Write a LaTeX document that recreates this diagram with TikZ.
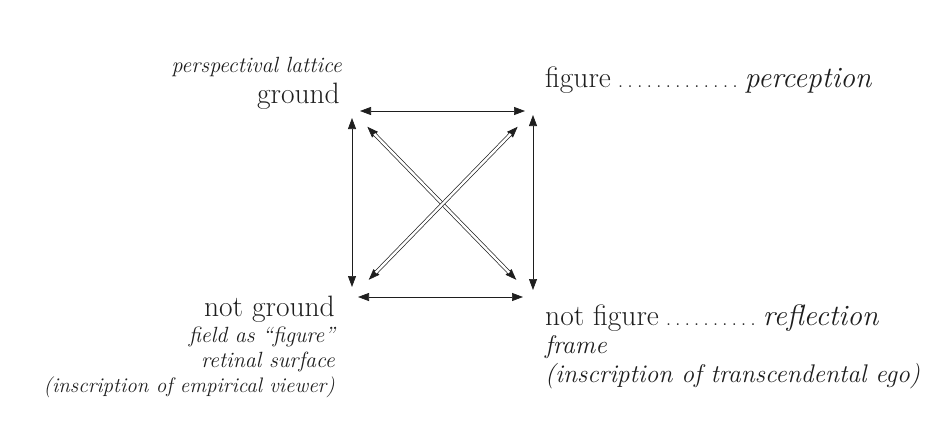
\documentclass[tikz,border=0pt]{standalone}
\usepackage{tikz}
\usetikzlibrary{arrows.meta}
\definecolor{PrintInk}{HTML}{1E1E1E}
\newcommand{\leaderdots}[1]{\hbox to #1{\xleaders\hbox to 9.4pt{\hss\fontsize{22}{22}\selectfont.\hss}\hfill}}

\begin{document}
\begin{tikzpicture}[x=1pt, y=-1pt,
  label/.style={inner sep=0pt, text=PrintInk, font=\fontsize{29.5}{30}\selectfont},
  note/.style={inner sep=0pt, text=PrintInk, font=\fontsize{22}{25}\selectfont\itshape},
  rnote/.style={note, font=\fontsize{25.5}{28}\selectfont\itshape},
  link/.style={{Triangle[length=11pt,width=8pt]}-{Triangle[length=11pt,width=8pt]},
               line width=0.7pt, draw=PrintInk},
  hollow/.style={draw=PrintInk, line width=0.7pt, double=white, double distance=2.4pt}
]
\useasboundingbox (0,0) rectangle (941,441);
\coordinate (G)  at (352,111);
\coordinate (F)  at (533,111);
\coordinate (N)  at (352,297);
\coordinate (NF) at (533,297);

\node[note, anchor=base east] (lattice) at (342,73) {perspectival lattice};
\node[label, anchor=base east] (ground) at (340,103) {ground};
\node[label, anchor=base west] (figure) at (545,88)
  {figure\,\leaderdots{124pt}\,\textit{perception}};
\node[label, anchor=base east] (notground) at (335,316) {not ground};
\node[note, anchor=base east] (field) at (335,342) {field as ``figure''};
\node[note, anchor=base east] (retina) at (335,367) {retinal surface};
\node[note, anchor=base east, font=\fontsize{21}{25}\selectfont\itshape] (viewer)
  at (335,392) {(inscription of empirical viewer)};
\node[label, anchor=base west] (notfigure) at (545,325)
  {not figure\,\leaderdots{94pt}\,\textit{reflection}};
\node[rnote, anchor=base west] (frame) at (545,353) {frame};
\node[rnote, anchor=base west] (ego) at (545,382) {(inscription of transcendental ego)};

\draw[link, shorten <=8pt, shorten >=8pt] (G) -- (F);
\draw[link, shorten <=6pt, shorten >=10pt] (N) -- (NF);
\draw[link, shorten <=7pt, shorten >=10pt] (G) -- (N);
\draw[link, shorten <=4pt, shorten >=7pt] (F) -- (NF);
% double shafts over the diagonals
\draw[link, shorten <=22pt, shorten >=24pt] (G) -- (NF);
\draw[link, shorten <=24pt, shorten >=22pt] (N) -- (F);
\draw[hollow, shorten <=32pt, shorten >=34pt] (G) -- (NF);
\draw[hollow, shorten <=34pt, shorten >=32pt] (N) -- (F);
\end{tikzpicture}
\end{document}
